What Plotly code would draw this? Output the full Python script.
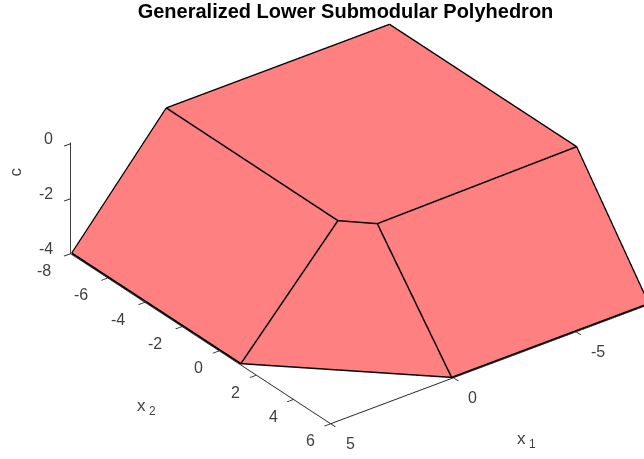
import plotly.graph_objects as go
import numpy as np

title = "Generalized Lower Submodular Polyhedron"
# vertices: F, B, A, C, D, E, G, H, I
x1 = [4.97, 1.12, -7.97, -7.97, 1.14, 0.24, 4.97, 0.06, -7.97]
x2 = [-7.97, -7.97, -7.97, 2.1, 1.29, 2.22, 1.13, 5.98, 5.98]
c = [-3.99, 0, 0, 0, 0, 0, -3.99, -3.99, -3.99]
faces = [[1, 2, 3, 5, 4], [0, 1, 4, 6], [6, 4, 5, 7], [7, 5, 3, 8]]
edges = [[0, 1], [1, 2], [2, 3], [3, 8], [1, 4], [4, 5], [5, 3], [4, 6], [5, 7], [0, 6], [6, 7], [7, 8]]
x1_ticks = [-5, 0, 5]
x2_ticks = [-8, -6, -4, -2, 0, 2, 4, 6]
c_ticks = [-4, -2, 0]

i, j, k = [], [], []
for f in faces:
    for t in range(1, len(f) - 1):
        i.append(f[0]); j.append(f[t]); k.append(f[t + 1])

lift = 0.015
ex, ey, ez = [], [], []
for a, b in edges:
    ex += [x1[a], x1[b], None]; ey += [x2[a], x2[b], None]; ez += [c[a] + lift, c[b] + lift, None]

fig = go.Figure()
fig.add_trace(go.Mesh3d(x=x1, y=x2, z=c, i=i, j=j, k=k, color="#ff8080", opacity=1, flatshading=True,
                        lighting=dict(ambient=1, diffuse=0, specular=0, fresnel=0, roughness=1),
                        hoverinfo="skip", showscale=False))
fig.add_trace(go.Scatter3d(x=ex, y=ey, z=ez, mode="lines", line=dict(color="black", width=3),
                           hoverinfo="skip", showlegend=False))

axis = dict(showbackground=False, showgrid=False, zeroline=False, showline=True, linecolor="#262626",
            linewidth=2, ticks="outside", ticklen=8, tickcolor="#262626", tickwidth=2, showspikes=False,
            showticklabels=False, title_text="")

font = dict(family="Liberation Sans", size=16, color="#404040")
ann = []
def label(x, y, z, text, dx, dy, angle=0, size=16, anchor="center"):
    ann.append(dict(x=x, y=y, z=z, text=text, showarrow=False, xshift=dx, yshift=-dy, textangle=angle,
                    font=dict(font, size=size), xanchor=anchor, yanchor="middle"))
for t in x1_ticks:
    label(t, 6, -4, str(t), 13, 20, anchor="left")
for t in x2_ticks:
    label(5, t, -4, str(t), -18 if t < 0 else -14, 17, anchor="right")
for t in c_ticks:
    label(5, -8, t, str(t), -16, -5, anchor="right")
label(-2, 6, -4, "x\u2009<sub>1</sub>", 24, 81, size=17)
label(5, 3, -4, "x\u2009<sub>2</sub>", -128, 20, size=17)
label(5, -8, -1.5, "c", -55, -13, angle=-90, size=17)

direction = np.array([0.604, 0.798, 0.57])
r = 1.5
center = np.array([0.1406, -0.0899, -0.0231])
eye = center + direction * r

fig.update_layout(
    width=644, height=459, margin=dict(l=0, r=0, t=0, b=0), paper_bgcolor="white", showlegend=False,
    title=dict(text="<b>" + title + "</b>", x=0.5365, xanchor="center", y=0.976, yanchor="middle",
               font=dict(family="Liberation Sans", size=20, color="black")),
    scene=dict(
        domain=dict(x=[0, 1], y=[0, 1]),
        aspectmode="manual", aspectratio=dict(x=1.744, y=1.878, z=0.557),
        xaxis=dict(axis, range=[-8, 5], tickvals=x1_ticks),
        yaxis=dict(axis, range=[-8, 6], tickvals=x2_ticks),
        zaxis=dict(axis, range=[-4, 0.04], tickvals=c_ticks),
        annotations=ann,
        camera=dict(projection=dict(type="orthographic"), up=dict(x=0, y=0, z=1),
                    center=dict(x=center[0], y=center[1], z=center[2]),
                    eye=dict(x=eye[0], y=eye[1], z=eye[2])),
    ),
)
fig.write_html("out.html", post_script="document.body.style.margin='0';", config=dict(displayModeBar=False))
